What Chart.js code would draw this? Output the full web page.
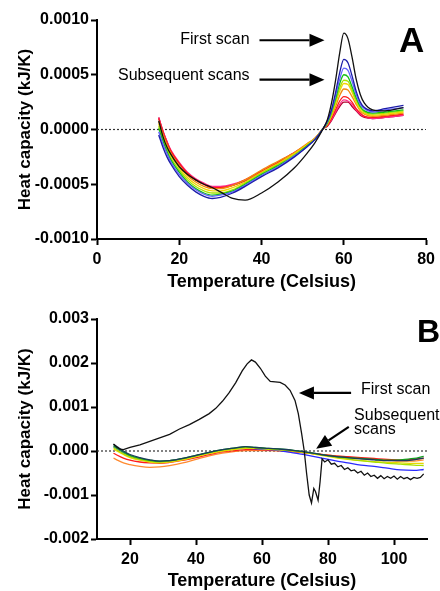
<!DOCTYPE html>
<html>
<head>
<meta charset="utf-8">
<script src="https://cdn.jsdelivr.net/npm/chart.js"></script>
<style>
  html, body { margin: 0; padding: 0; background: #fff; overflow: hidden; }
  canvas { position: absolute; left: 0; }
  #chartA { top: 0; }
  #chartB { top: 295px; }
</style>
</head>
<body>
<canvas id="chartA" width="440" height="295"></canvas>
<canvas id="chartB" width="440" height="296"></canvas>
<script>
// ---------- panel A (values in 1e-4 kJ/K) ----------
var TEMP_A = [15,16,17,18,20,22,24,26,28,30,33,36,40,44,48,51,53,55,56,57,58,59,60,61,62,63,64,65,67,70,74.5];
var FIRST_A = [0.8,-0.6,-1.6,-2.3,-3.4,-4.1,-4.6,-5.0,-5.3,-5.7,-6.3,-6.45,-5.8,-4.8,-3.5,-2.2,-1.2,0.1,0.9,2.4,4.5,7.0,8.8,8.3,6.6,4.6,3.2,2.4,1.8,1.7,2.0];
var NAVY_A = [-0.5,-1.6,-2.5,-3.2,-4.3,-5.1,-5.7,-6.1,-6.3,-6.2,-5.8,-5.2,-4.3,-3.5,-2.5,-1.6,-0.9,0.1,0.8,1.8,3.4,5.2,6.4,6.1,4.9,3.5,2.5,2.0,1.7,1.9,2.2];
var VIOLET_A = [-0.2,-1.3,-2.2,-3.0,-4.1,-4.9,-5.5,-5.9,-6.1,-6.0,-5.7,-5.1,-4.2,-3.4,-2.4,-1.6,-0.9,0.1,0.7,1.7,3.1,4.6,5.6,5.4,4.4,3.2,2.3,1.9,1.6,1.8,2.0];
var GREEN_A = [0.1,-1.0,-2.0,-2.8,-3.9,-4.8,-5.4,-5.8,-6.0,-5.9,-5.6,-5.0,-4.1,-3.3,-2.4,-1.5,-0.9,0.1,0.6,1.6,2.8,4.2,5.0,4.8,3.9,2.9,2.1,1.7,1.5,1.6,1.8];
var LIME_A = [0.3,-0.8,-1.8,-2.6,-3.7,-4.6,-5.2,-5.6,-5.8,-5.8,-5.5,-4.9,-4.0,-3.2,-2.3,-1.5,-0.9,0.1,0.6,1.4,2.6,3.8,4.5,4.4,3.6,2.7,2.0,1.6,1.4,1.5,1.7];
var YELLOW_A = [0.5,-0.6,-1.6,-2.4,-3.5,-4.4,-5.0,-5.4,-5.6,-5.6,-5.3,-4.8,-3.9,-3.1,-2.2,-1.4,-0.8,0.1,0.5,1.3,2.4,3.5,4.2,4.1,3.4,2.5,1.8,1.5,1.3,1.4,1.6];
var ORANGE_A = [0.7,-0.4,-1.4,-2.2,-3.3,-4.2,-4.8,-5.2,-5.4,-5.4,-5.1,-4.6,-3.7,-2.9,-2.1,-1.3,-0.8,0.1,0.5,1.2,2.1,3.1,3.7,3.6,3.0,2.3,1.7,1.4,1.2,1.3,1.5];
var RED_A = [1.0,-0.2,-1.2,-2.0,-3.1,-4.0,-4.6,-5.0,-5.3,-5.3,-5.1,-4.6,-3.8,-3.0,-2.1,-1.4,-0.8,0.1,0.4,1.0,1.8,2.6,3.0,2.9,2.5,1.9,1.5,1.2,1.1,1.2,1.4];
var PINK_A = [1.1,-0.1,-1.1,-1.9,-3.0,-3.9,-4.5,-4.9,-5.2,-5.2,-5.0,-4.6,-3.8,-3.0,-2.1,-1.4,-0.8,0.1,0.4,0.9,1.6,2.3,2.7,2.6,2.3,1.8,1.4,1.2,1.0,1.1,1.3];
var CRIMSON_A = [1.1,-0.1,-1.1,-2.0,-3.1,-4.0,-4.6,-5.0,-5.3,-5.3,-5.1,-4.7,-3.9,-3.1,-2.2,-1.4,-0.9,0.1,0.3,0.8,1.5,2.1,2.5,2.5,2.1,1.7,1.3,1.1,1.0,1.1,1.3];
var Y_TICKS_A = [-0.0010,-0.0005,0,0.0005,0.0010];
var X_TICKS_A = [0,20,40,60,80];

// ---------- panel B (values in 1e-3 kJ/K) ----------
var TEMP_B_FIRST = [15,16,17,18,20,23,26,29,32,35,38,41,44,46,48,50,52,54,55.5,56.8,58,59.5,61,62.5,64,65.5,67,68.5,70,71,72,72.8,73.5,74.3,75,75.7,76.2,77,77.6,78.2,79,80,81,82,83,84,85,86,87,88,89,90,91,92,93,94,95,96,97,98,99,100,101,102,103,104,105,106,107,108,109];
var FIRST_B = [0.16,0.09,0.04,0.03,0.08,0.14,0.22,0.30,0.38,0.50,0.60,0.72,0.85,0.97,1.13,1.32,1.55,1.82,1.98,2.07,2.02,1.88,1.70,1.58,1.57,1.56,1.50,1.38,1.15,0.85,0.40,0.0,-0.5,-1.0,-1.18,-0.85,-0.92,-1.12,-0.7,-0.18,-0.25,-0.2,-0.3,-0.28,-0.36,-0.33,-0.42,-0.38,-0.45,-0.43,-0.5,-0.46,-0.55,-0.5,-0.58,-0.55,-0.62,-0.56,-0.63,-0.58,-0.62,-0.57,-0.64,-0.58,-0.63,-0.6,-0.65,-0.6,-0.62,-0.6,-0.52];
var TEMP_B = [15,16,18,20,23,26,29,32,36,40,44,48,52,55,58,62,66,70,74,78,82,86,90,94,98,102,106,109];
var NAVY_B = [0.15,0.10,0.00,-0.08,-0.15,-0.20,-0.23,-0.22,-0.17,-0.10,-0.03,0.03,0.07,0.10,0.08,0.06,0.04,0.01,-0.03,-0.08,-0.12,-0.15,-0.18,-0.20,-0.22,-0.22,-0.20,-0.16];
var GREEN_B = [0.12,0.07,-0.02,-0.10,-0.17,-0.21,-0.23,-0.22,-0.17,-0.10,-0.03,0.03,0.07,0.10,0.08,0.06,0.04,0.01,-0.03,-0.08,-0.12,-0.15,-0.17,-0.19,-0.21,-0.20,-0.17,-0.12];
var LIME_B = [0.08,0.03,-0.06,-0.13,-0.19,-0.23,-0.25,-0.23,-0.18,-0.11,-0.04,0.02,0.06,0.08,0.07,0.05,0.03,0.00,-0.04,-0.09,-0.14,-0.18,-0.22,-0.25,-0.28,-0.30,-0.32,-0.33];
var YELLOW_B = [0.05,0.00,-0.08,-0.15,-0.21,-0.25,-0.27,-0.25,-0.20,-0.13,-0.06,0.00,0.04,0.06,0.06,0.04,0.02,-0.01,-0.05,-0.10,-0.15,-0.19,-0.22,-0.24,-0.26,-0.27,-0.28,-0.28];
var BLUE_B = [0.10,0.05,-0.04,-0.12,-0.19,-0.23,-0.25,-0.23,-0.18,-0.11,-0.04,0.02,0.05,0.06,0.05,0.03,0.00,-0.05,-0.10,-0.16,-0.22,-0.27,-0.32,-0.35,-0.39,-0.43,-0.44,-0.42];
var RED_B = [-0.05,-0.09,-0.16,-0.21,-0.25,-0.27,-0.28,-0.26,-0.21,-0.15,-0.08,-0.02,0.01,0.03,0.03,0.02,0.01,-0.02,-0.05,-0.08,-0.11,-0.13,-0.15,-0.17,-0.19,-0.20,-0.19,-0.16];
var ORANGE_B = [-0.16,-0.20,-0.27,-0.31,-0.35,-0.37,-0.36,-0.33,-0.27,-0.19,-0.11,-0.05,-0.01,0.01,0.01,0.01,0.00,-0.02,-0.05,-0.08,-0.11,-0.14,-0.17,-0.19,-0.21,-0.23,-0.23,-0.20];
var Y_TICKS_B = [-0.002,-0.001,0,0.001,0.002,0.003];
var X_TICKS_B = [20,40,60,80,100];

var FONT = "'Liberation Sans', Arial, sans-serif";

function pts(xs, ys, unit) {
  return xs.map(function (x, i) { return { x: x, y: ys[i] * unit }; });
}
function curve(xs, ys, unit, color, smooth) {
  return {
    data: pts(xs, ys, unit),
    borderColor: color,
    borderWidth: 1.3,
    pointRadius: 0,
    cubicInterpolationMode: smooth ? 'monotone' : 'default',
    tension: 0
  };
}
function zeroLine(x0, x1) {
  return { data: [{ x: x0, y: 0 }, { x: x1, y: 0 }], borderColor: '#333', borderWidth: 1.2, borderDash: [2, 2], pointRadius: 0 };
}

// text + arrows drawn in data coordinates
var notesPlugin = {
  id: 'notes',
  afterDraw: function (chart, args, opts) {
    var ctx = chart.ctx, sx = chart.scales.x, sy = chart.scales.y;
    ctx.save();
    (opts.texts || []).forEach(function (t) {
      ctx.font = t.font;
      ctx.fillStyle = '#000';
      ctx.textAlign = t.align || 'left';
      ctx.textBaseline = 'middle';
      ctx.fillText(t.text, sx.getPixelForValue(t.x), sy.getPixelForValue(t.y));
    });
    (opts.arrows || []).forEach(function (a) {
      var x0 = sx.getPixelForValue(a.x0), y0 = sy.getPixelForValue(a.y0);
      var x1 = sx.getPixelForValue(a.x1), y1 = sy.getPixelForValue(a.y1);
      var ang = Math.atan2(y1 - y0, x1 - x0), L = 15, W = 6.5;
      var bx = x1 - L * Math.cos(ang), by = y1 - L * Math.sin(ang);
      ctx.strokeStyle = '#000';
      ctx.lineWidth = 2.2;
      ctx.beginPath(); ctx.moveTo(x0, y0); ctx.lineTo(bx, by); ctx.stroke();
      ctx.fillStyle = '#000';
      ctx.beginPath();
      ctx.moveTo(x1, y1);
      ctx.lineTo(bx + W * Math.sin(ang), by - W * Math.cos(ang));
      ctx.lineTo(bx - W * Math.sin(ang), by + W * Math.cos(ang));
      ctx.closePath(); ctx.fill();
    });
    ctx.restore();
  }
};

function axisStyle() {
  return {
    grid: { display: true, drawOnChartArea: false, drawTicks: true, tickLength: 6, tickWidth: 2, tickColor: '#000', color: '#000' },
    border: { display: true, color: '#000', width: 2 }
  };
}

function makeChart(id, cfg) {
  var x = axisStyle(), y = axisStyle();
  x.type = 'linear'; x.min = cfg.xMin; x.max = cfg.xMax;
  x.afterBuildTicks = function (s) { s.ticks = cfg.xTicks.map(function (v) { return { value: v }; }); };
  x.afterFit = function (s) { s.height = cfg.xAxisH; };
  x.ticks = { color: '#000', padding: 5, font: { family: FONT, size: 16, weight: 'bold' }, maxRotation: 0, callback: function (v) { return String(v); } };
  x.title = { display: true, text: 'Temperature (Celsius)', color: '#000', font: { family: FONT, size: 18, weight: 'bold', lineHeight: 1 }, padding: { top: 0, bottom: cfg.titlePadB } };

  y.min = cfg.yTicks[0]; y.max = cfg.yTicks[cfg.yTicks.length - 1];
  y.afterBuildTicks = function (s) { s.ticks = cfg.yTicks.map(function (v) { return { value: v }; }); };
  y.afterFit = function (s) { s.width = 97; };
  y.ticks = { color: '#000', padding: 2, font: { family: FONT, size: 16, weight: 'bold' }, callback: function (v) { var t = Math.abs(v) < 1e-9 ? 0 : v; return t.toFixed(cfg.digits); } };
  y.title = { display: true, text: 'Heat capacity (kJ/K)', color: '#000', font: { family: FONT, size: 17, weight: 'bold', lineHeight: 1.2 }, padding: { top: 15, bottom: 0 } };

  return new Chart(document.getElementById(id).getContext('2d'), {
    type: 'line',
    data: { datasets: cfg.datasets },
    options: {
      responsive: false, animation: false, devicePixelRatio: 1,
      parsing: true,
      layout: { padding: { top: cfg.padTop, right: 13, left: 0, bottom: 0 } },
      plugins: { legend: { display: false }, tooltip: { enabled: false }, notes: cfg.notes },
      scales: { x: x, y: y }
    },
    plugins: [notesPlugin]
  });
}

var chartA = makeChart('chartA', {
  xMin: 0, xMax: 80, xTicks: X_TICKS_A, yTicks: Y_TICKS_A, digits: 4,
  xAxisH: 56, titlePadB: 4, padTop: 20,
  datasets: [
    curve(TEMP_A, FIRST_A, 1e-4, '#111', true),
    curve(TEMP_A, NAVY_A, 1e-4, '#1c1ca8', true),
    curve(TEMP_A, VIOLET_A, 1e-4, '#6464ff', true),
    curve(TEMP_A, GREEN_A, 1e-4, '#12c012', true),
    curve(TEMP_A, LIME_A, 1e-4, '#a6e400', true),
    curve(TEMP_A, YELLOW_A, 1e-4, '#f2d400', true),
    curve(TEMP_A, ORANGE_A, 1e-4, '#f08a10', true),
    curve(TEMP_A, RED_A, 1e-4, '#ff1a1a', true),
    curve(TEMP_A, PINK_A, 1e-4, '#ff2a8a', true),
    curve(TEMP_A, CRIMSON_A, 1e-4, '#b3002d', true),
    zeroLine(0, 80)
  ],
  notes: {
    texts: [
      { text: 'First scan', x: 37.1, y: 0.000825, align: 'right', font: '16px ' + FONT },
      { text: 'Subsequent scans', x: 37.1, y: 0.00049, align: 'right', font: '16px ' + FONT },
      { text: 'A', x: 76.5, y: 0.00080, align: 'center', font: 'bold 35px ' + FONT }
    ],
    arrows: [
      { x0: 39.5, y0: 0.000815, x1: 55.3, y1: 0.000815 },
      { x0: 39.5, y0: 0.000455, x1: 55.3, y1: 0.000455 }
    ]
  }
});

var chartB = makeChart('chartB', {
  xMin: 10, xMax: 110, xTicks: X_TICKS_B, yTicks: Y_TICKS_B, digits: 3,
  xAxisH: 52, titlePadB: 1, padTop: 24,
  datasets: [
    curve(TEMP_B_FIRST, FIRST_B, 1e-3, '#111', false),
    curve(TEMP_B, NAVY_B, 1e-3, '#1b3a5b', true),
    curve(TEMP_B, GREEN_B, 1e-3, '#10a020', true),
    curve(TEMP_B, LIME_B, 1e-3, '#a8e000', true),
    curve(TEMP_B, YELLOW_B, 1e-3, '#e8d800', true),
    curve(TEMP_B, BLUE_B, 1e-3, '#2a2aff', true),
    curve(TEMP_B, RED_B, 1e-3, '#ff1a1a', true),
    curve(TEMP_B, ORANGE_B, 1e-3, '#ff8a30', true),
    zeroLine(10, 110)
  ],
  notes: {
    texts: [
      { text: 'First scan', x: 90.0, y: 0.00139, align: 'left', font: '16px ' + FONT },
      { text: 'Subsequent', x: 87.9, y: 0.00080, align: 'left', font: '16px ' + FONT },
      { text: 'scans', x: 87.9, y: 0.00048, align: 'left', font: '16px ' + FONT },
      { text: 'B', x: 110.5, y: 0.00267, align: 'center', font: 'bold 32px ' + FONT }
    ],
    arrows: [
      { x0: 87.0, y0: 0.00132, x1: 71.2, y1: 0.00132 },
      { x0: 86.3, y0: 0.00055, x1: 76.4, y1: 0.00005 }
    ]
  }
});
</script>
</body>
</html>
